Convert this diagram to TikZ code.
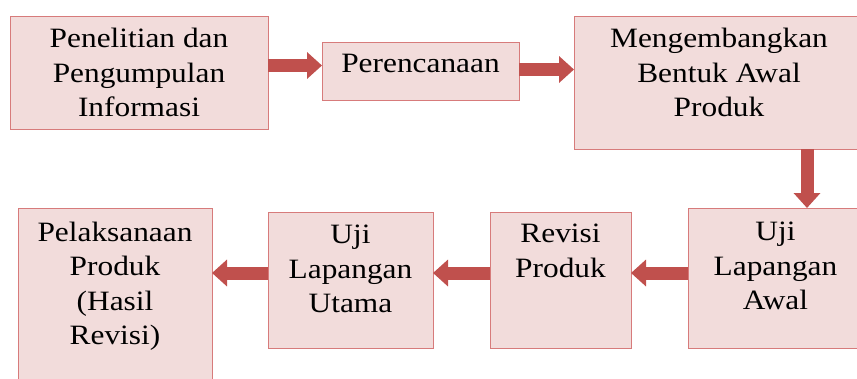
\documentclass[tikz,border=0pt]{standalone}
\usepackage{fontspec}
\setmainfont[FakeStretch=1.12]{Liberation Serif}
\usetikzlibrary{arrows.meta,positioning}
\definecolor{boxfill}{HTML}{F2DCDB}
\definecolor{boxline}{HTML}{D77B7B}
\definecolor{arrowred}{HTML}{C0504D}
\tikzset{
  box/.style={draw=boxline, fill=boxfill, line width=1pt, inner sep=0pt, outer sep=0pt},
  txt/.style={align=center, anchor=north, inner sep=0pt, font=\fontsize{28}{34.5}\selectfont},
  flow/.style={draw=arrowred, line width=13pt, -{Triangle[length=15pt,width=26pt]}}
}
\begin{document}
\begin{tikzpicture}[x=1pt, y=-1pt, line join=miter]
		\useasboundingbox[fill=white] (0,0) rectangle (857,378);
		% kotak baris atas
		\node[box, minimum width=258pt, minimum height=113pt] (b1) at (139,72.5) {};
		\node[box, minimum width=197pt, minimum height=58pt] (b2) at (420.5,71) {};
		\node[box, minimum width=290pt, minimum height=133pt] (b3) at (719,82.5) {};
		% kotak baris bawah
		\node[box, minimum width=175pt, minimum height=140pt] (b4) at (775.5,278) {};
		\node[box, minimum width=141pt, minimum height=136pt] (b5) at (560.5,280) {};
		\node[box, minimum width=165pt, minimum height=136pt] (b6) at (350.5,280) {};
		\node[box, minimum width=194pt, minimum height=182pt] (b7) at (115,299) {};
		% teks
		\node[txt] (t1) at ([yshift=-12pt]b1.north) {Penelitian dan\\Pengumpulan\\Informasi};
		\node[txt] (t2) at ([yshift=-12pt]b2.north) {Perencanaan};
		\node[txt] (t3) at ([yshift=-12pt]b3.north) {Mengembangkan\\Bentuk Awal\\Produk};
		\node[txt] (t4) at ([yshift=-14pt]b4.north) {Uji\\Lapangan\\Awal};
		\node[txt] (t5) at ([yshift=-12pt]b5.north) {Revisi\\Produk};
		\node[txt] (t6) at ([yshift=-13pt]b6.north) {Uji\\Lapangan\\Utama};
		\node[txt] (t7) at ([yshift=-13.5pt]b7.north) {Pelaksanaan\\Produk\\(Hasil\\Revisi)};
		% panah
		\draw[flow] ([yshift=7pt]b1.east) -- ([yshift=7pt]b1.east -| b2.west);
		\draw[flow] ([yshift=1.5pt]b2.east) -- ([yshift=1.5pt]b2.east -| b3.west);
		\draw[flow] ([xshift=88pt]b3.south) -- ([xshift=88pt]b3.south |- b4.north);
		\draw[flow] ([yshift=5pt]b4.west) -- ([yshift=5pt]b4.west -| b5.east);
		\draw[flow] ([yshift=7pt]b5.west) -- ([yshift=7pt]b5.west -| b6.east);
		\draw[flow] ([yshift=7pt]b6.west) -- ([yshift=7pt]b6.west -| b7.east);
\end{tikzpicture}
\end{document}
